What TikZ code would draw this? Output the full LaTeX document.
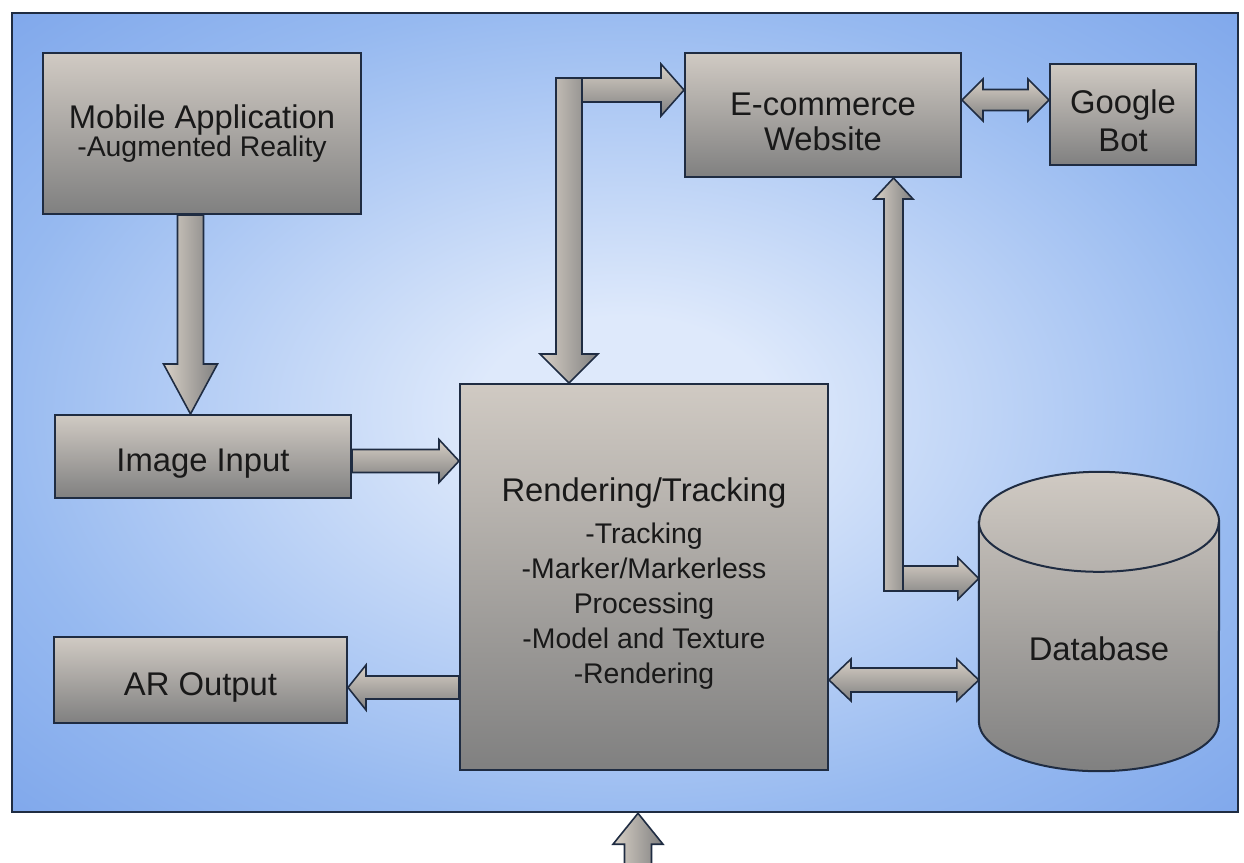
\documentclass[tikz,border=0pt]{standalone}
\usepackage{fontspec}
\setmainfont{Liberation Sans}
\usetikzlibrary{calc,positioning}

\pgfdeclarelayer{background}
\pgfdeclarelayer{middle}
\pgfsetlayers{background,middle,main}

\definecolor{navy}{RGB}{31,44,66}
\definecolor{boxtop}{RGB}{208,202,195}
\definecolor{boxbot}{RGB}{128,128,128}
\definecolor{arrlight}{RGB}{216,208,198}
\definecolor{arrdark}{RGB}{128,128,128}
\definecolor{bgin}{RGB}{222,233,251}
\definecolor{bgmid}{RGB}{150,185,240}
\definecolor{bgout}{RGB}{95,142,228}
\pgfdeclareradialshading{bgglow}{\pgfpoint{0bp}{0bp}}{color(0bp)=(bgin); color(6bp)=(bgin); color(26bp)=(bgmid); color(50bp)=(bgout)}

\newcommand{\hdfont}{\fontsize{32.8}{35}\selectfont}
\newcommand{\subfont}{\fontsize{28.4}{35}\selectfont}
\newcommand{\lowstrut}{\rule{0pt}{37pt}}

\tikzstyle{blk}=[draw=navy, line width=2pt, top color=boxtop, bottom color=boxbot,
    text=black!90, align=center, inner sep=0pt, font=\subfont]
\tikzstyle{varr}=[draw=navy, line width=1.6pt, left color=arrlight, right color=arrdark]
\tikzstyle{harr}=[draw=navy, line width=1.6pt, top color=arrlight, bottom color=arrdark]

\begin{document}
\begin{tikzpicture}[x=1pt, y=-1pt]
    \path[use as bounding box, clip] (0,0) rectangle (1244,862);

    \node (render) [blk, minimum width=368pt, minimum height=386pt] at (644,577)
        {{\hdfont\lowstrut Rendering/Tracking}\\[7pt] -Tracking\\ -Marker/Markerless\\
         Processing\\ -Model and Texture\\ -Rendering};
    \node (mob) [blk, minimum width=318pt, minimum height=161pt] at (202,133.5)
        {{\hdfont Mobile Application}\\[-7pt] -Augmented Reality};
    \node (img) [blk, font=\hdfont, minimum width=296pt, minimum height=83pt] at (203,456.5) {\lowstrut Image Input};
    \node (arout) [blk, font=\hdfont, minimum width=293pt, minimum height=86pt] at (200.5,680) {\lowstrut AR Output};
    \node (ecom) [blk, font=\hdfont, minimum width=276pt, minimum height=124pt] at (823,115) {\lowstrut E-commerce\\Website};
    \path (ecom.east)+(161,-0.5) node (gbot) [blk, font=\hdfont, minimum width=146pt, minimum height=101pt] {\lowstrut Google\\[3pt]Bot};

    % database cylinder
    \node (db) [minimum width=240pt, minimum height=199pt, inner sep=0pt] at (1099,621.5) {};
    \path[draw=navy, line width=2pt, top color=boxtop, bottom color=boxbot]
        (db.north west) -- (db.south west)
        arc[start angle=180, end angle=360, x radius=120pt, y radius=50pt]
        -- (db.north east)
        arc[start angle=0, end angle=180, x radius=120pt, y radius=50pt] -- cycle;
    \draw[navy, line width=2pt] (db.north west) arc[start angle=180, end angle=360, x radius=120pt, y radius=50pt];
    \node (dblabel) [font=\hdfont, text=black!90] at ($(db.center)+(0,27.5)$) {Database};

    \begin{pgfonlayer}{background}
        \fill[white] (0,0) rectangle (1244,862);
        \node (frame) [draw=navy, line width=2.5pt, shade, shading=bgglow,
            minimum width=1226pt, minimum height=799pt, inner sep=0pt] at (625,412.5) {};
    \end{pgfonlayer}

    \begin{pgfonlayer}{middle}
        % mobile -> image input
        \coordinate (a1t) at ($(mob.south)+(-11.5,0)$);
        \coordinate (a1h) at (a1t |- img.north);
        \path[varr] ($(a1t)+(-13,0)$) -- ($(a1h)+(-13,-50)$) -- ($(a1h)+(-27,-50)$) -- (a1h)
            -- ($(a1h)+(27,-50)$) -- ($(a1h)+(13,-50)$) -- ($(a1t)+(13,0)$) -- cycle;
        % image input -> rendering
        \coordinate (a2t) at ($(img.east)+(0,4.5)$);
        \coordinate (a2h) at (render.west |- a2t);
        \path[harr] ($(a2t)+(0,-11.5)$) -- ($(a2h)+(-20,-11.5)$) -- ($(a2h)+(-20,-21.5)$) -- (a2h)
            -- ($(a2h)+(-20,21.5)$) -- ($(a2h)+(-20,11.5)$) -- ($(a2t)+(0,11.5)$) -- cycle;
        % rendering -> AR output
        \coordinate (a3h) at ($(arout.east)+(0,7.5)$);
        \coordinate (a3t) at (render.west |- a3h);
        \path[harr] ($(a3t)+(0,-11.5)$) -- ($(a3h)+(18,-11.5)$) -- ($(a3h)+(18,-22.5)$) -- (a3h)
            -- ($(a3h)+(18,22.5)$) -- ($(a3h)+(18,11.5)$) -- ($(a3t)+(0,11.5)$) -- cycle;
        % rendering <-> database
        \coordinate (a4r) at ($(db.west)+(0,58.5)$);
        \coordinate (a4l) at (render.east |- a4r);
        \path[harr] (a4l) -- ($(a4l)+(22,-21)$) -- ($(a4l)+(22,-12)$) -- ($(a4r)+(-22,-12)$)
            -- ($(a4r)+(-22,-21)$) -- (a4r) -- ($(a4r)+(-22,21)$) -- ($(a4r)+(-22,12)$)
            -- ($(a4l)+(22,12)$) -- ($(a4l)+(22,21)$) -- cycle;
        % e-commerce -> rendering
        \coordinate (a5h) at ($(render.north)+(-75,0)$);
        \coordinate (a5t) at ($(a5h |- ecom.north)+(0,26)$);
        \coordinate (a6t) at ($(a5t)+(13,12)$);
        \coordinate (a6h) at (ecom.west |- a6t);
        \path[harr] ($(a6t)+(0,-12)$) -- ($(a6h)+(-23,-12)$) -- ($(a6h)+(-23,-26)$) -- (a6h)
            -- ($(a6h)+(-23,26)$) -- ($(a6h)+(-23,12)$) -- ($(a6t)+(0,12)$) -- cycle;
        \path[varr] ($(a5t)+(-13,0)$) -- ($(a5h)+(-13,-29)$) -- ($(a5h)+(-29,-29)$) -- (a5h)
            -- ($(a5h)+(29,-29)$) -- ($(a5h)+(13,-29)$) -- ($(a5t)+(13,0)$) -- cycle;
        % e-commerce <-> google bot
        \coordinate (a7l) at ($(ecom.east)+(0,-15)$);
        \coordinate (a7r) at (gbot.west |- a7l);
        \path[harr] (a7l) -- ($(a7l)+(21,-21)$) -- ($(a7l)+(21,-10.5)$) -- ($(a7r)+(-21,-10.5)$)
            -- ($(a7r)+(-21,-21)$) -- (a7r) -- ($(a7r)+(-21,21)$) -- ($(a7r)+(-21,10.5)$)
            -- ($(a7l)+(21,10.5)$) -- ($(a7l)+(21,21)$) -- cycle;
        % database <-> e-commerce
        \coordinate (a8h) at ($(ecom.south)+(70.5,0)$);
        \coordinate (a8t) at ($(a8h |- db.west)+(0,-30.5)$);
        \coordinate (a9t) at ($(a8t)+(9.5,-12.5)$);
        \coordinate (a9h) at (db.west |- a9t);
        \path[harr] ($(a9t)+(0,-12.5)$) -- ($(a9h)+(-21,-12.5)$) -- ($(a9h)+(-21,-21)$) -- (a9h)
            -- ($(a9h)+(-21,21)$) -- ($(a9h)+(-21,12.5)$) -- ($(a9t)+(0,12.5)$) -- cycle;
        \path[varr] ($(a8t)+(-9.5,0)$) -- ($(a8h)+(-9.5,21)$) -- ($(a8h)+(-19.5,21)$) -- (a8h)
            -- ($(a8h)+(19.5,21)$) -- ($(a8h)+(9.5,21)$) -- ($(a8t)+(9.5,0)$) -- cycle;
        % input from below
        \coordinate (a10h) at ($(frame.south)+(13,0)$);
        \coordinate (a10t) at ($(a10h)+(0,80)$);
        \path[varr] ($(a10t)+(-13.5,0)$) -- ($(a10h)+(-13.5,31)$) -- ($(a10h)+(-25,31)$) -- (a10h)
            -- ($(a10h)+(25,31)$) -- ($(a10h)+(13.5,31)$) -- ($(a10t)+(13.5,0)$) -- cycle;
    \end{pgfonlayer}
\end{tikzpicture}
\end{document}
